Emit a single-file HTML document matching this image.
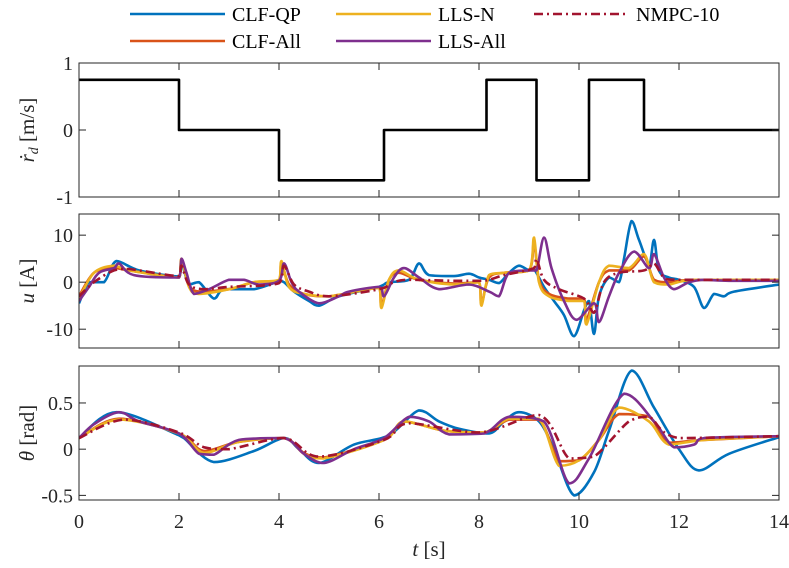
<!DOCTYPE html>
<html><head><meta charset="utf-8"><style>
body{margin:0;background:#fff;}
svg{display:block;font-family:"Liberation Serif",serif;}
</style></head><body>
<svg id="chart" width="789" height="568" viewBox="0 0 789 568"></svg>
<script>
const tRef=[0,2,2,4,4,6.1,6.1,8.15,8.15,9.15,9.15,10.2,10.2,11.3,11.3,14];
const vRef=[0.75,0.75,0,0,-0.75,-0.75,0,0,0.75,0.75,-0.75,-0.75,0.75,0.75,0,0];

const uBlueT=[0,0.2,0.5,0.75,1.2,2,2.05,2.2,2.4,2.7,2.9,3.5,4.0,4.1,4.3,4.6,4.8,5.2,6.0,6.1,6.2,6.6,6.8,7.0,7.5,7.8,8.0,8.2,8.4,8.6,8.8,9.0,9.1,9.3,9.5,9.7,9.9,10.1,10.2,10.3,10.4,10.6,10.8,10.9,11.05,11.2,11.4,11.5,11.6,11.8,12,12.3,12.5,12.7,12.9,13.1,14];
const uBlueV=[-4.5,0,0,4.5,2.5,1.2,4,-0.5,0,-3.5,-1.5,-1.5,0.2,0,-2,-4,-5,-3,-1,-0.5,0,0.5,4,1.5,1.3,1.8,1,0.5,-0.2,2,3.5,2.5,2.8,-1,-4,-7,-11.5,-6,-4,-11,-3,1,0,5,13,9,4,9,2.5,1,0.5,-1,-5.5,-2.5,-3,-2,-0.5];
const uYelT=[0,0.3,0.7,1.0,2,2.05,2.2,2.4,3,3.5,4.0,4.05,4.2,4.5,5,6.0,6.05,6.2,6.4,6.8,7.5,8.0,8.05,8.2,8.5,9.0,9.1,9.2,9.4,9.8,10.1,10.15,10.4,10.6,11.0,11.3,11.5,11.8,12.3,14];
const uYelV=[-3.5,2,3.5,2.5,1,5,-1,-2.5,-1.5,0,0.5,4.5,-1,-2.5,-3,-1.2,-5.5,0.5,2.5,0.5,-0.5,0,-5,1.5,2,2.5,9.5,0,-3,-4,-4,-9,0,3.5,3,6,0,-0.5,0.5,0.5];
const uOrgT=[0,0.3,0.7,1.0,2,2.05,2.2,2.4,3,3.5,4.0,4.05,4.2,4.5,5,6.0,6.05,6.2,6.4,6.8,7.5,8.0,8.05,8.2,8.5,9.0,9.1,9.2,9.4,9.8,10.1,10.15,10.4,10.6,11.0,11.3,11.5,11.8,12.3,14];
const uOrgV=[-3,2,3,2.5,1,4.5,-0.5,-2,-1.5,0,0.3,4,-0.5,-2.5,-3,-1.2,-5,0.5,2,0.5,-0.3,0,-4.5,1,2,2.5,8.5,0.5,-2.5,-3.5,-3.5,-8,0,2.5,2.5,5.5,0.5,0,0.5,0.5];
const uPurT=[0,0.2,0.4,0.7,0.8,1.1,2,2.05,2.15,2.3,2.6,3.0,3.3,3.6,4.0,4.1,4.25,4.4,4.8,5.2,5.4,6.0,6.1,6.3,6.5,6.8,7.2,7.8,8.2,8.4,8.6,9.0,9.15,9.3,9.45,9.7,9.95,10.3,10.4,10.6,10.8,11.1,11.4,11.5,11.7,11.9,12.2,12.5,13,14];
const uPurV=[-4,-1,2,3,4,1.5,1,5,2,-2.5,-1.5,0.5,0.5,-0.5,0.3,4,0,-2,-4.5,-3,-2,-1,-3,1,3,1,-1.5,-0.5,-2,-3,2,2.5,2.5,9.5,3,-4,-8,-4.5,-8.5,-3,2,6.5,3,6,1,-1.5,0,0.5,0.3,0.3];
const uNmpT=[0,0.3,0.7,1.0,2,2.05,2.2,2.5,3,4.0,4.1,4.3,4.6,5,6.0,6.3,6.6,7.5,8.0,8.2,8.5,9.1,9.15,9.3,9.6,10.1,10.3,10.5,10.8,11.3,11.5,11.7,12,14];
const uNmpV=[-3,0,2.5,2.8,1.3,3.5,-0.5,-1.5,-1,-0.2,3.5,-0.5,-2,-3,-1.5,0,0.5,0.3,0.3,0.5,1.5,3,5,0.5,-1.5,-3.5,-6.5,0,2,2.5,4,1,0.5,0.5];

const thBlueT=[0,0.75,2,2.1,2.7,3.5,4.1,4.4,4.8,5.5,6.2,6.8,7.2,7.6,8.2,8.5,8.8,9.2,9.5,9.9,10.3,10.6,11.05,11.5,12,12.4,13,14];
const thBlueV=[0.12,0.4,0.15,0.12,-0.14,-0.02,0.12,0.0,-0.15,0.05,0.15,0.42,0.3,0.22,0.17,0.3,0.4,0.3,0.0,-0.5,-0.25,0.2,0.85,0.45,0.0,-0.23,-0.05,0.13];
const thYelT=[0,0.8,2,2.5,3.2,4.1,4.5,4.9,6.1,6.5,7.3,8.1,8.6,9.2,9.6,10.0,10.4,10.8,11.4,11.8,12.5,14];
const thYelV=[0.12,0.32,0.17,-0.04,0.08,0.12,-0.05,-0.1,0.1,0.3,0.2,0.18,0.33,0.33,-0.18,-0.12,0.1,0.45,0.3,0.05,0.1,0.14];
const thOrgT=[0,0.8,2,2.5,3.2,4.1,4.5,4.9,6.1,6.5,7.3,8.1,8.6,9.2,9.6,10.0,10.4,10.8,11.4,11.8,12.5,14];
const thOrgV=[0.12,0.33,0.17,-0.02,0.08,0.12,-0.04,-0.09,0.1,0.3,0.2,0.18,0.32,0.32,-0.13,-0.12,0.1,0.38,0.35,0.07,0.1,0.14];
const thPurT=[0,0.3,0.8,1.2,2,2.4,2.7,3.2,4.1,4.5,4.9,5.5,6.1,6.6,7.0,7.4,8.1,8.6,9.3,9.8,10.2,10.9,11.5,11.9,12.3,12.5,14];
const thPurV=[0.12,0.27,0.4,0.3,0.17,-0.05,-0.06,0.1,0.12,-0.05,-0.15,0.0,0.12,0.35,0.3,0.16,0.17,0.35,0.3,-0.37,-0.1,0.6,0.3,0.02,0.05,0.12,0.14];
const thNmpT=[0,0.9,2,2.5,3,4.1,4.8,6.1,6.6,8,9.2,9.8,10.3,11.0,11.4,12.0,14];
const thNmpV=[0.12,0.32,0.18,0.02,0.0,0.12,-0.08,0.1,0.28,0.18,0.37,-0.1,-0.08,0.3,0.35,0.12,0.14];

const xTicks=[0,2,4,6,8,10,12,14];
const ns='http://www.w3.org/2000/svg';
const svg=document.getElementById('chart');
function mk(tag,attrs,parent){const e=document.createElementNS(ns,tag);for(const k in attrs)e.setAttribute(k,attrs[k]);(parent||svg).appendChild(e);return e;}
const X0=79,X1=779;
const xs=t=>X0+(X1-X0)*t/14;
const C={blue:'#0072BD',org:'#D95319',yel:'#EDB120',pur:'#7E2F8E',nmp:'#A2142F'};
const clamp=(v,a,b)=>Math.max(Math.min(a,b),Math.min(Math.max(a,b),v));
function smoothPath(P){
  let d='M'+P[0][0].toFixed(1)+','+P[0][1].toFixed(1);
  for(let i=0;i<P.length-1;i++){
    const p0=P[Math.max(i-1,0)],p1=P[i],p2=P[i+1],p3=P[Math.min(i+2,P.length-1)];
    let c1x=p1[0]+(p2[0]-p0[0])/6,c1y=p1[1]+(p2[1]-p0[1])/6;
    let c2x=p2[0]-(p3[0]-p1[0])/6,c2y=p2[1]-(p3[1]-p1[1])/6;
    c1x=clamp(c1x,p1[0],p2[0]);c2x=clamp(c2x,p1[0],p2[0]);
    c1y=clamp(c1y,p1[1],p2[1]);c2y=clamp(c2y,p1[1],p2[1]);
    d+=` C${c1x.toFixed(1)},${c1y.toFixed(1)} ${c2x.toFixed(1)},${c2y.toFixed(1)} ${p2[0].toFixed(1)},${p2[1].toFixed(1)}`;
  }
  return d;
}

function panel(name,top,bot,ymin,ymax,yt,ytl,series,labelHTML,showX,smooth){
  const ys=v=>bot-(v-ymin)/(ymax-ymin)*(bot-top);
  const g=mk('g',{});
  
  
  const clipId='clip-'+name;
  const cp=mk('clipPath',{id:clipId},g);mk('rect',{x:X0,y:top,width:X1-X0,height:bot-top},cp);
  series.forEach(s=>{
    const P=s.t.map((t,i)=>[xs(t),ys(s.v[i])]);
    const d=smooth?smoothPath(P):'M'+P.map(p=>p[0].toFixed(1)+','+p[1].toFixed(1)).join(' L');
    const pl=mk('path',{d:d,fill:'none',stroke:s.c,'stroke-width':s.w||2.6,'stroke-linejoin':'round','clip-path':'url(#'+clipId+')'},g);
    if(s.d)pl.setAttribute('stroke-dasharray',s.d);
    
    
  });
  mk('rect',{x:X0,y:top,width:X1-X0,height:bot-top,fill:'none',stroke:'#262626','stroke-width':1},g);
  xTicks.forEach(t=>{
    mk('line',{x1:xs(t),x2:xs(t),y1:top,y2:top+7,stroke:'#262626'},g);
    mk('line',{x1:xs(t),x2:xs(t),y1:bot,y2:bot-7,stroke:'#262626'},g);
    if(showX){const tx=mk('text',{x:xs(t),y:bot+28,'text-anchor':'middle','font-size':20,fill:'#262626'},g);tx.textContent=t;
      }
  });
  yt.forEach((v,i)=>{
    mk('line',{x1:X0,x2:X0+7,y1:ys(v),y2:ys(v),stroke:'#262626'},g);
    mk('line',{x1:X1,x2:X1-7,y1:ys(v),y2:ys(v),stroke:'#262626'},g);
    const tx=mk('text',{x:X0-6,y:ys(v)+7,'text-anchor':'end','font-size':20,fill:'#262626'},g);tx.textContent=ytl[i];
    
  });
  const lab=mk('text',{transform:`translate(34,${(top+bot)/2}) rotate(-90)`,'text-anchor':'middle','font-size':21,fill:'#262626'},g);
  lab.innerHTML=labelHTML;
  
}
panel('ref-panel',63,197,-1,1,[-1,0,1],['-1','0','1'],[{t:tRef,v:vRef,c:'#000',w:2.6,n:'reference-velocity'}],'<tspan font-style="italic">ṙ</tspan><tspan font-style="italic" font-size="14" dy="4">d</tspan><tspan dy="-4"> [m/s]</tspan>',false,false);
panel('u-panel',214,348,-14,14.5,[-10,0,10],['-10','0','10'],[
 {t:uBlueT,v:uBlueV,c:C.blue,n:'u-clf-qp'},{t:uOrgT,v:uOrgV,c:C.org,n:'u-clf-all'},{t:uYelT,v:uYelV,c:C.yel,n:'u-lls-n'},
 {t:uPurT,v:uPurV,c:C.pur,n:'u-lls-all'},{t:uNmpT,v:uNmpV,c:C.nmp,d:'9,4,2,4',n:'u-nmpc-10'}],'<tspan font-style="italic">u</tspan> [A]',false,true);
panel('theta-panel',366,500,-0.55,0.9,[-0.5,0,0.5],['-0.5','0','0.5'],[
 {t:thBlueT,v:thBlueV,c:C.blue,n:'theta-clf-qp'},{t:thOrgT,v:thOrgV,c:C.org,n:'theta-clf-all'},{t:thYelT,v:thYelV,c:C.yel,n:'theta-lls-n'},
 {t:thPurT,v:thPurV,c:C.pur,n:'theta-lls-all'},{t:thNmpT,v:thNmpV,c:C.nmp,d:'9,4,2,4',n:'theta-nmpc-10'}],'<tspan font-style="italic">θ</tspan> [rad]',true,true);
const xl=mk('text',{x:429,y:556,'text-anchor':'middle','font-size':21,fill:'#262626'});
xl.innerHTML='<tspan font-style="italic">t</tspan> [s]';

const leg=[['CLF-QP',C.blue,130,14,null],['LLS-N',C.yel,336,14,null],['NMPC-10',C.nmp,534,14,'9,4,2,4'],['CLF-All',C.org,130,41,null],['LLS-All',C.pur,336,41,null]];
leg.forEach(l=>{
  const g=mk('g',{});
  
  
  const ln=mk('line',{x1:l[2],x2:l[2]+95,y1:l[3],y2:l[3],stroke:l[1],'stroke-width':2.6},g);
  if(l[4])ln.setAttribute('stroke-dasharray',l[4]);
  const tx=mk('text',{x:l[2]+102,y:l[3]+7,'font-size':20,fill:'#000'},g);tx.textContent=l[0];
});
</script>
</body></html>
